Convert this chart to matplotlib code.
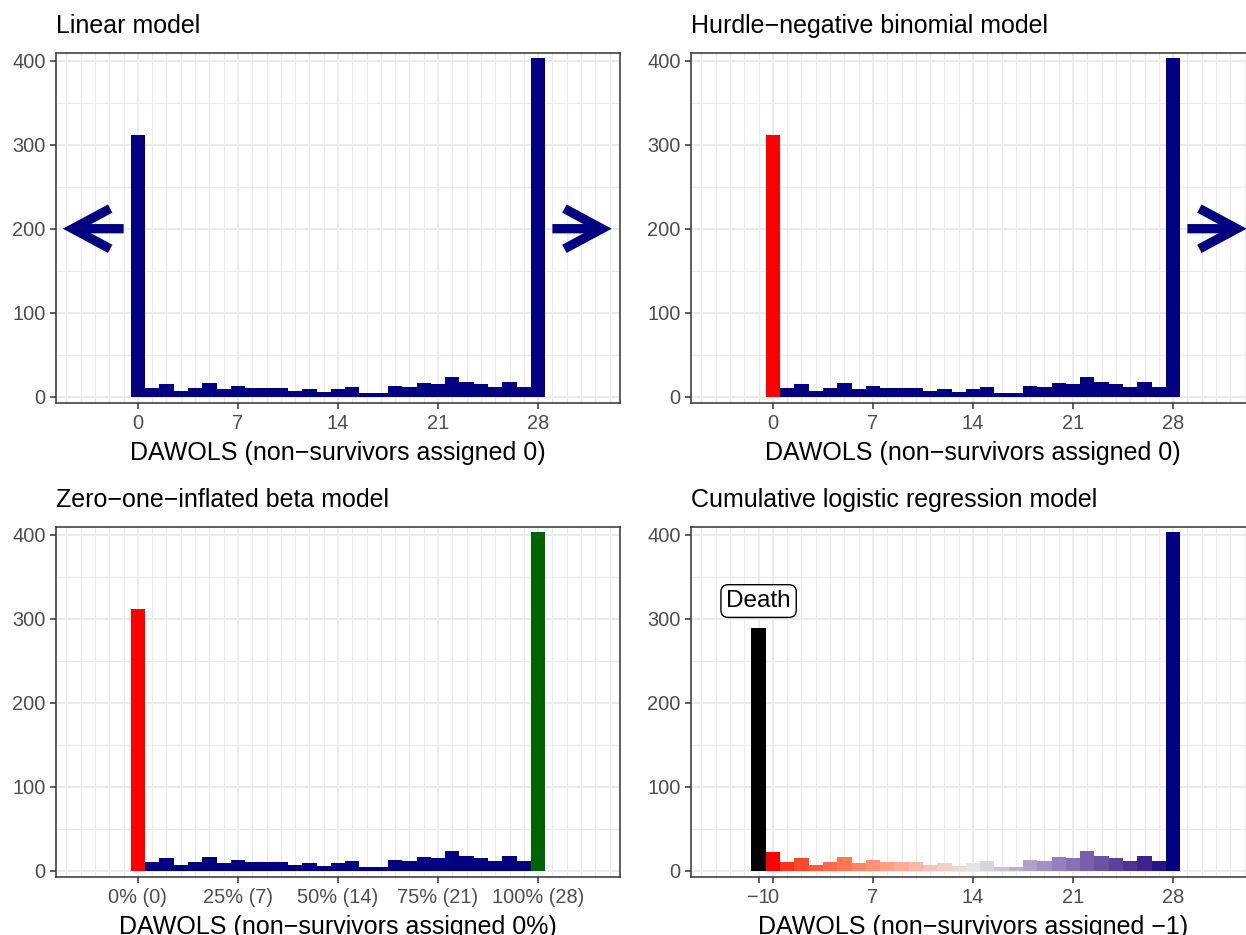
import numpy as np
import matplotlib
matplotlib.use("Agg")
import matplotlib.pyplot as plt

plt.rcParams['font.family'] = ['Liberation Sans', 'DejaVu Sans']

# ---------------- data ----------------
days = list(range(0, 29))
counts = [311, 10, 15, 7, 10, 16, 9, 13, 10, 10, 10, 7, 9, 6, 9, 11,
          5, 5, 13, 12, 16, 15, 24, 18, 15, 11, 17, 11, 403]
death_count = 289
zero_survivor_count = 22

titles = ["Linear model", "Hurdle\u2212negative binomial model",
          "Zero\u2212one\u2212inflated beta model",
          "Cumulative logistic regression model"]
xlabels = ["DAWOLS (non\u2212survivors assigned 0)",
           "DAWOLS (non\u2212survivors assigned 0)",
           "DAWOLS (non\u2212survivors assigned 0%)",
           "DAWOLS (non\u2212survivors assigned \u22121)"]
day_ticks = [0, 7, 14, 21, 28]
day_labels = ["0", "7", "14", "21", "28"]
pct_labels = ["0% (0)", "25% (7)", "50% (14)", "75% (21)", "100% (28)"]
ord_ticks = [-1, 0, 7, 14, 21, 28]
ord_labels = ["\u22121", "0", "7", "14", "21", "28"]
y_ticks = [0, 100, 200, 300, 400]

NAVY = "#000080"
RED = "#FF0000"
GREEN = "#006400"
ARROW_Y = 200
LEFT_ARROW = (-1.0, -5.25)   # (tail, tip)
RIGHT_ARROW = (29.0, 33.15)

# ---------------- Lab gradient (ggplot-like gradient2) ----------------
def hex2rgb(h):
    h = h.lstrip('#')
    return np.array([int(h[i:i+2], 16) / 255 for i in (0, 2, 4)])

def rgb2lab(rgb):
    c = np.where(rgb > 0.04045, ((rgb + 0.055) / 1.055) ** 2.4, rgb / 12.92)
    M = np.array([[0.4124, 0.3576, 0.1805], [0.2126, 0.7152, 0.0722], [0.0193, 0.1192, 0.9505]])
    xyz = M @ c / np.array([0.95047, 1.0, 1.08883])
    f = np.where(xyz > 0.008856, np.cbrt(xyz), 7.787 * xyz + 16 / 116)
    return np.array([116 * f[1] - 16, 500 * (f[0] - f[1]), 200 * (f[1] - f[2])])

def lab2rgb(lab):
    L, a, b = lab
    fy = (L + 16) / 116
    fx = fy + a / 500
    fz = fy - b / 200
    f = np.array([fx, fy, fz])
    xyz = np.where(f ** 3 > 0.008856, f ** 3, (f - 16 / 116) / 7.787) * np.array([0.95047, 1.0, 1.08883])
    Minv = np.array([[3.2406, -1.5372, -0.4986], [-0.9689, 1.8758, 0.0415], [0.0557, -0.2040, 1.0570]])
    c = Minv @ xyz
    c = np.where(c > 0.0031308, 1.055 * np.abs(c) ** (1 / 2.4) - 0.055, 12.92 * c)
    return np.clip(c, 0, 1)

def gradient2(v, vmin, vmid, vmax, low, mid, high):
    lo, mi, hi = rgb2lab(hex2rgb(low)), rgb2lab(hex2rgb(mid)), rgb2lab(hex2rgb(high))
    if v <= vmid:
        t = (v - vmin) / (vmid - vmin)
        lab = lo + (mi - lo) * t
    else:
        t = (v - vmid) / (vmax - vmid)
        lab = mi + (hi - mi) * t
    return lab2rgb(lab)

# ---------------- figure ----------------
W, H = 1246, 935
fig = plt.figure(figsize=(W / 100, H / 100), dpi=100)

lefts = [56, 691]
tops = [52.7, 526.7]
pw, ph = 564, 350
axes = []
for r in range(2):
    for c in range(2):
        ax = fig.add_axes([lefts[c] / W, 1 - (tops[r] + ph) / H, pw / W, ph / H])
        axes.append(ax)

TICK_COL = "#4D4D4D"
for i, ax in enumerate(axes):
    ax.set_xlim(-5.73, 33.73)
    ax.set_ylim(-7.1, 409.5)
    ax.set_facecolor("white")
    ax.set_xticks(np.arange(-5, 34, 1), minor=True)
    ax.set_yticks([50, 150, 250, 350], minor=True)
    ax.set_yticks(y_ticks)
    ax.set_yticklabels([str(v) for v in y_ticks])
    ax.grid(which='major', color="#EBEBEB", lw=1.4, zorder=0)
    ax.grid(which='minor', color="#EBEBEB", lw=0.8, zorder=0)
    ax.set_axisbelow(True)
    for s in ax.spines.values():
        s.set_color("#333333")
        s.set_linewidth(1.1)
    ax.tick_params(which='major', length=4.3, width=1.1, color="#333333",
                   labelcolor=TICK_COL, labelsize=14.4, pad=3)
    ax.tick_params(axis='x', which='major', pad=4)
    ax.tick_params(which='minor', length=0)
    ax.set_title(titles[i], loc='left', fontsize=18, pad=14)
    ax.set_xlabel(xlabels[i], fontsize=18, labelpad=5.5)

# Panel 1: linear model
ax = axes[0]
ax.bar(days, counts, width=1, color=NAVY, linewidth=0, zorder=2)
ax.set_xticks(day_ticks)
ax.set_xticklabels(day_labels)

# Panel 2: hurdle
ax = axes[1]
cols = [RED] + [NAVY] * (len(days) - 1)
ax.bar(days, counts, width=1, color=cols, linewidth=0, zorder=2)
ax.set_xticks(day_ticks)
ax.set_xticklabels(day_labels)

# Panel 3: zoib
ax = axes[2]
cols = [RED] + [NAVY] * (len(days) - 2) + [GREEN]
ax.bar(days, counts, width=1, color=cols, linewidth=0, zorder=2)
ax.set_xticks(day_ticks)
ax.set_xticklabels(pct_labels)

# Panel 4: cumulative logistic
ax = axes[3]
ord_counts = [zero_survivor_count] + counts[1:]
cols = [gradient2(d, 0, 14, 28, RED, "#E5E5E5", NAVY) for d in days]
ax.bar([-1], [death_count], width=1, color="black", linewidth=0, zorder=2)
ax.bar(days, ord_counts, width=1, color=cols, linewidth=0, zorder=2)
ax.set_xticks(ord_ticks)
ax.set_xticklabels(ord_labels)
ax.text(-1, 321, "Death", ha='center', va='center', fontsize=17.5, zorder=5,
        bbox=dict(boxstyle='round,pad=0.22,rounding_size=0.3', fc='white', ec='black', lw=1.0))

# arrows
arrow_kw = dict(arrowstyle="->,head_length=2.7,head_width=1.45", lw=6.7, color=NAVY,
                shrinkA=0, shrinkB=0, mutation_scale=10, joinstyle='miter', capstyle='butt')
for ax, arrows in [(axes[0], [LEFT_ARROW, RIGHT_ARROW]), (axes[1], [RIGHT_ARROW])]:
    for tail, tip in arrows:
        ax.annotate("", xy=(tip, ARROW_Y), xytext=(tail, ARROW_Y),
                    arrowprops=arrow_kw, annotation_clip=False, zorder=6)

fig.savefig("out.png", dpi=100)
